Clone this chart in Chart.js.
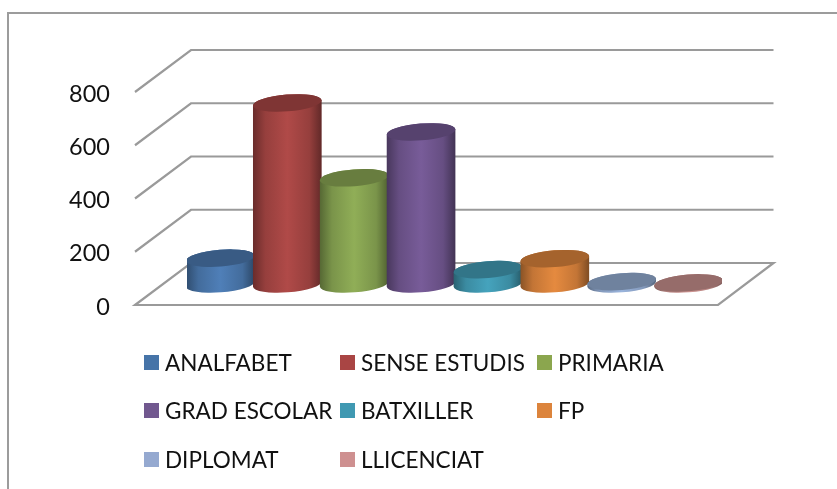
<!DOCTYPE html>
<html lang="en">
<head>
    <meta charset="UTF-8">
    <title>Nivell d'estudis</title>
    <script src="https://cdn.jsdelivr.net/npm/chart.js"></script>
    <style>
        html, body { margin: 0; padding: 0; background: #fff; overflow: hidden; }
        #wrap { position: relative; width: 837px; height: 489px; overflow: hidden; }
        #frame { position: absolute; left: 7px; top: 12px; width: 840px; height: 500px; border: 2px solid #9c9c9c; box-sizing: border-box; }
        canvas { position: absolute; left: 0; top: 0; }
        #legend {
            position: absolute; left: 144px; top: 338px;
            display: grid; grid-template-columns: 196px 197px 184px; grid-auto-rows: 48.5px;
            font: 22.5px Lato, sans-serif; color: #111;
        }
        #legend div { display: flex; align-items: center; white-space: nowrap; }
        #legend i { display: inline-block; width: 15px; height: 15px; margin-right: 6px; }
    </style>
</head>
<body>
<div id="wrap">
    <div id="frame"></div>
    <canvas id="chart" width="837" height="489"></canvas>
    <div id="legend"></div>
</div>
<script>
    const categories = ['ANALFABET', 'SENSE ESTUDIS', 'PRIMARIA', 'GRAD ESCOLAR', 'BATXILLER', 'FP', 'DIPLOMAT', 'LLICENCIAT'];
    const values = [97, 680, 399, 571, 54, 95, 9, 4];
    const colors = ['#4f7fb8', '#b04a48', '#90ae57', '#785c99', '#45a3bd', '#e58a3f', '#9ab4dc', '#d19693'];
    const swatches = ['#4674a8', '#a94544', '#8ba64e', '#71588f', '#4099b2', '#dc843c', '#95a9d0', '#ce9090'];
    const yTicks = [0, 200, 400, 600, 800];

    // fake 3D depth of the floor, in px
    const depthX = 56, depthY = 42;
    const frontLeft = 135, frontRight = 718;

    function shade(hex, f) {
        const n = parseInt(hex.slice(1), 16);
        const c = [n >> 16, (n >> 8) & 255, n & 255].map(v => Math.round(v * f));
        return `rgb(${c[0]},${c[1]},${c[2]})`;
    }

    // bars are drawn as tilted cylinders standing half way down the floor
    Chart.BarElement.prototype.draw = function (ctx) {
        const { x, y, base, width } = this.getProps(['x', 'y', 'base', 'width']);
        const color = this.options.backgroundColor;
        const rx = width / 2 + 1, ry = 8.4, tilt = -0.08;
        const topY = y - depthY / 2, baseY = base - depthY / 2;

        const grad = ctx.createLinearGradient(x - rx, 0, x + rx, 0);
        grad.addColorStop(0, shade(color, 0.6));
        grad.addColorStop(0.18, shade(color, 0.85));
        grad.addColorStop(0.5, color);
        grad.addColorStop(0.82, shade(color, 0.85));
        grad.addColorStop(1, shade(color, 0.55));

        ctx.save();
        ctx.fillStyle = grad;
        ctx.beginPath();
        ctx.ellipse(x, baseY, rx, ry, tilt, 0, Math.PI);
        ctx.ellipse(x, topY, rx, ry, tilt, Math.PI, Math.PI * 2);
        ctx.closePath();
        ctx.fill();

        ctx.fillStyle = shade(color, 0.72);
        ctx.beginPath();
        ctx.ellipse(x, topY, rx, ry, tilt, 0, Math.PI * 2);
        ctx.fill();
        ctx.restore();
    };

    // walls and floor, hung off the y scale
    const walls = {
        id: 'walls',
        beforeDatasetsDraw(chart) {
            const { ctx, scales: { y } } = chart;
            const backLeft = frontLeft + depthX, backRight = frontRight + depthX - 0.5;
            ctx.save();
            ctx.strokeStyle = '#9a9a9a';
            ctx.lineWidth = 2.2;
            yTicks.forEach(t => {
                const py = y.getPixelForValue(t);
                ctx.beginPath();
                ctx.moveTo(frontLeft, py);
                ctx.lineTo(backLeft, py - depthY);
                ctx.lineTo(backRight, py - depthY);
                if (t === 0) {
                    ctx.lineTo(frontRight, py);
                    ctx.closePath();
                }
                ctx.stroke();
            });
            ctx.restore();
        }
    };

    new Chart(document.getElementById('chart'), {
        type: 'bar',
        data: {
            labels: categories,
            datasets: [{ data: values, backgroundColor: colors, categoryPercentage: 1, barPercentage: 1 }]
        },
        options: {
            responsive: false,
            animation: false,
            layout: { padding: { top: 92, bottom: 184, right: 115, left: 0 } },
            plugins: { legend: { display: false }, tooltip: { enabled: false } },
            scales: {
                x: { display: false },
                y: {
                    min: 0, max: 800,
                    afterFit(scale) { scale.width = 187; },
                    afterBuildTicks(scale) { scale.ticks = yTicks.map(value => ({ value })); },
                    grid: { display: false },
                    border: { display: false },
                    ticks: { padding: 69, labelOffset: 2, color: '#111', font: { family: 'Lato', size: 23.5 } }
                }
            }
        },
        plugins: [walls]
    });

    const legend = document.getElementById('legend');
    categories.forEach((name, i) => {
        const item = document.createElement('div');
        const box = document.createElement('i');
        box.style.background = swatches[i];
        item.appendChild(box);
        item.appendChild(document.createTextNode(name));
        legend.appendChild(item);
    });
</script>
</body>
</html>
